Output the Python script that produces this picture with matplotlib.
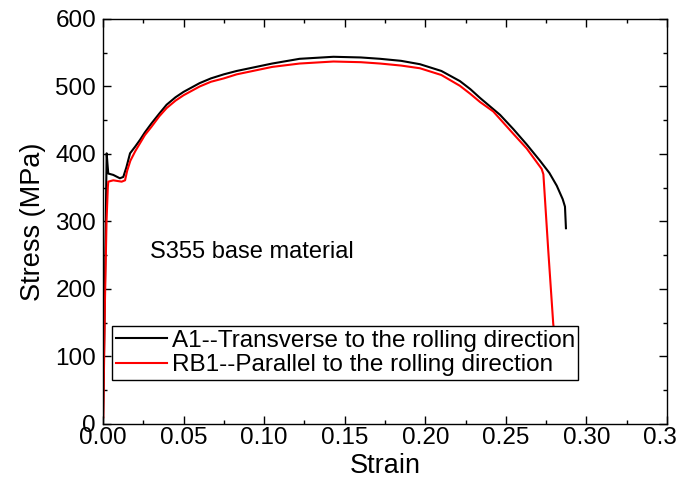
import matplotlib
matplotlib.use("Agg")
import matplotlib.pyplot as plt
from matplotlib.ticker import MultipleLocator, FormatStrFormatter

plt.rcParams['font.family'] = ['Liberation Sans', 'DejaVu Sans']

a1_strain = [0, 0.0005, 0.0012, 0.0020, 0.0023, 0.0028, 0.0033, 0.0064, 0.0105, 0.0126,
             0.0145, 0.0168, 0.020, 0.023, 0.026, 0.030, 0.035, 0.0395, 0.045, 0.050,
             0.060, 0.067, 0.075, 0.083, 0.091, 0.105, 0.122, 0.143, 0.160, 0.172,
             0.185, 0.1967, 0.210, 0.2215, 0.228, 0.234, 0.2464, 0.2546, 0.263, 0.2712,
             0.277, 0.2816, 0.2853, 0.2867, 0.2873]
a1_stress = [0, 80, 200, 350, 401, 385, 371, 369, 364, 366,
             380, 401, 411, 421, 432, 445, 460, 473, 484, 492,
             505, 512, 518, 523, 527, 534, 541, 544, 543, 541,
             538, 533, 523, 508, 496, 483, 458, 437, 414, 390,
             372, 353, 333, 322, 290]

rb1_strain = [0.0002, 0.0012, 0.0022, 0.0030, 0.0033, 0.0064, 0.0116, 0.0137, 0.015, 0.017,
              0.020, 0.023, 0.026, 0.030, 0.035, 0.0395, 0.045, 0.050, 0.060, 0.067,
              0.075, 0.083, 0.091, 0.105, 0.122, 0.143, 0.160, 0.172, 0.185, 0.1967,
              0.210, 0.2215, 0.228, 0.234, 0.2422, 0.2546, 0.263, 0.2722, 0.2733, 0.2763,
              0.2794, 0.280]
rb1_stress = [10, 179, 300, 350, 359, 361, 359, 361, 375, 390,
              404, 416, 428, 440, 456, 468, 479, 487, 500, 507,
              512, 518, 522, 529, 534, 537, 536, 534, 531, 527,
              517, 501, 489, 477, 463, 430, 408, 378, 370, 258,
              149, 135]

labels = ["A1--Transverse to the rolling direction", "RB1--Parallel to the rolling direction"]
colors = ["black", "red"]

fig = plt.figure(figsize=(6.77, 4.97), dpi=100)
ax = fig.add_axes([0.1521, 0.1469, 0.8331, 0.8149])

ax.plot(a1_strain, a1_stress, color=colors[0], lw=1.5, label=labels[0])
ax.plot(rb1_strain, rb1_stress, color=colors[1], lw=1.5, label=labels[1])

ax.set_xlim(0, 0.35)
ax.set_ylim(0, 600)
ax.xaxis.set_major_locator(MultipleLocator(0.05))
ax.xaxis.set_minor_locator(MultipleLocator(0.025))
ax.yaxis.set_major_locator(MultipleLocator(100))
ax.yaxis.set_minor_locator(MultipleLocator(50))
ax.xaxis.set_major_formatter(FormatStrFormatter('%.2f'))
ax.tick_params(which='both', direction='in', top=True, right=True, labelsize=17.5, width=1)
ax.tick_params(axis='y', pad=5)
ax.tick_params(axis='x', pad=2)
ax.tick_params(which='major', length=6)
ax.tick_params(which='minor', length=3)
for s in ax.spines.values():
    s.set_linewidth(1)

ax.set_xlabel("Strain", fontsize=19.5, labelpad=3)
ax.set_ylabel("Stress (MPa)", fontsize=19.5, labelpad=7)

ax.text(0.029, 255, "S355 base material", fontsize=17, va='center', ha='left')

leg = ax.legend(loc='lower left', bbox_to_anchor=(0.016, 0.109), borderaxespad=0,
                fontsize=17.5, frameon=True, fancybox=False, edgecolor='black',
                handlelength=2.1, handletextpad=0.2, borderpad=0.15, labelspacing=0.1,
                framealpha=1)
leg.get_frame().set_linewidth(1)

fig.savefig("out.png", dpi=100)
